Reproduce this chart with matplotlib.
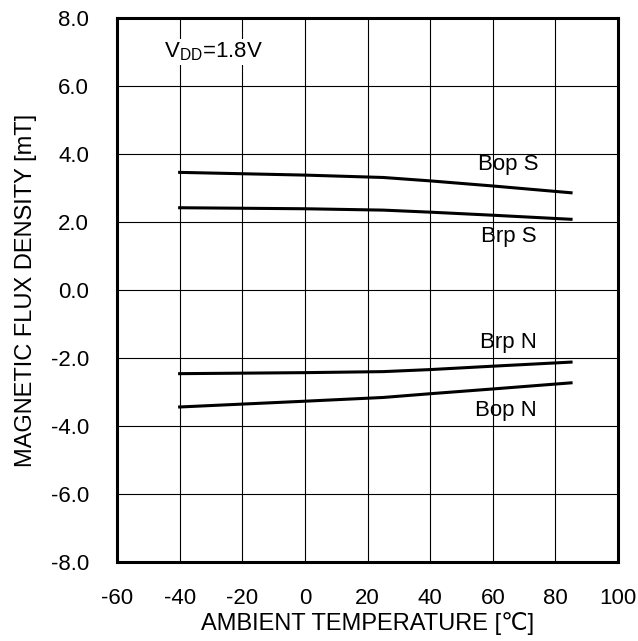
import matplotlib
matplotlib.use("Agg")
import matplotlib.pyplot as plt

plt.rcParams['font.family'] = ['Liberation Sans', 'DejaVu Sans']
plt.rcParams['axes.unicode_minus'] = False

# temperature points [degC]
temp = [-40, 0, 25, 40, 60, 85]

# magnetic flux density [mT]
bop_s = [3.46, 3.38, 3.31, 3.21, 3.06, 2.86]
brp_s = [2.42, 2.39, 2.35, 2.29, 2.20, 2.08]
brp_n = [-2.46, -2.43, -2.40, -2.34, -2.24, -2.12]
bop_n = [-3.44, -3.27, -3.16, -3.05, -2.91, -2.73]

xticks = [-60, -40, -20, 0, 20, 40, 60, 80, 100]
yticks = [-8, -6, -4, -2, 0, 2, 4, 6, 8]

fig = plt.figure(figsize=(6.38, 6.41), dpi=100)
ax = fig.add_axes([0.1834, 0.1232, 0.7853, 0.8487])

for ser in [bop_s, brp_s, brp_n, bop_n]:
    ax.plot(temp, ser, color='black', lw=2.2, zorder=3)

ax.set_xlim(-60, 100)
ax.set_ylim(-8, 8)
ax.set_xticks(xticks)
ax.set_yticks(yticks)
ax.set_yticklabels(["%.1f" % v for v in yticks])
ax.grid(True, color='black', lw=0.8)
ax.tick_params(length=0, labelsize=16)
ax.tick_params(axis='y', pad=20)
ax.tick_params(axis='x', pad=19)
for s in ax.spines.values():
    s.set_linewidth(2.2)

ax.set_xlabel("AMBIENT TEMPERATURE [\u2103]", fontsize=17, labelpad=2)
ax.set_ylabel("MAGNETIC FLUX DENSITY [mT]", fontsize=17, labelpad=10)

ax.text(-29.3, 7.0, "V$_{\\mathregular{DD}}$=1.8V", fontsize=16, ha='center', va='center',
        bbox=dict(facecolor='white', edgecolor='none', pad=1), zorder=4)
ax.text(65, 3.68, "Bop S", fontsize=16, ha='center', va='center')
ax.text(65, 1.56, "Brp S", fontsize=16, ha='center', va='center')
ax.text(65, -1.53, "Brp N", fontsize=16, ha='center', va='center')
ax.text(64.2, -3.53, "Bop N", fontsize=16, ha='center', va='center')

fig.savefig("out.png", dpi=100)
